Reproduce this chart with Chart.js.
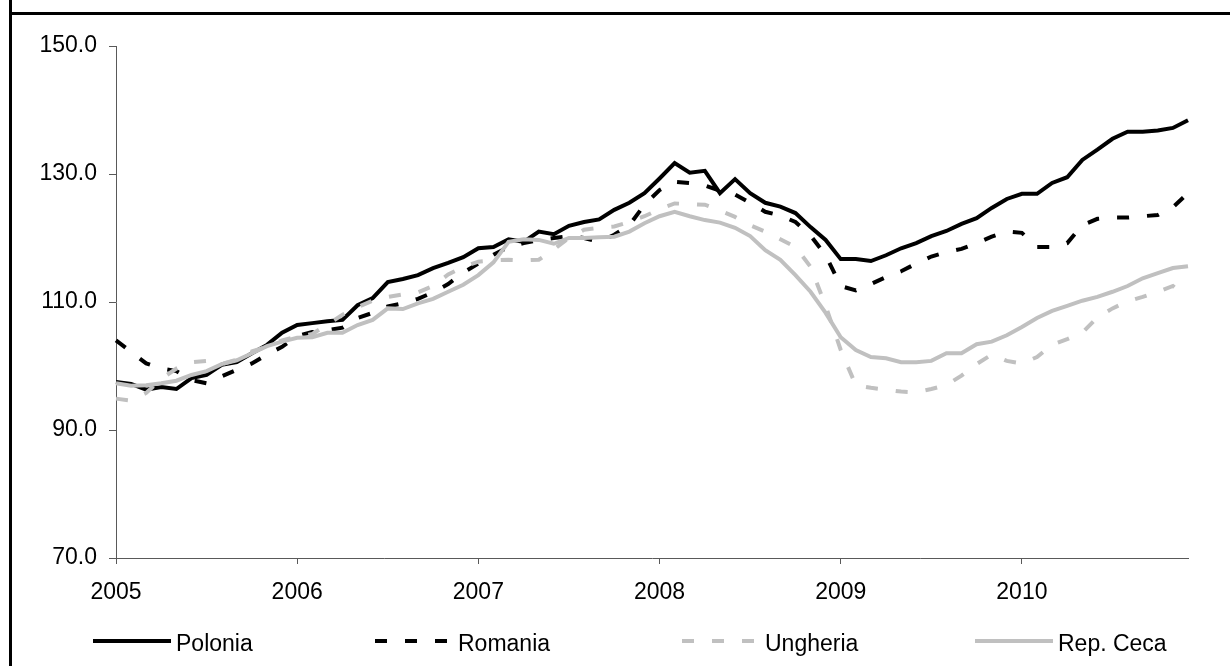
<!DOCTYPE html>
<html lang="it">

<head>
    <meta charset="UTF-8">
    <title>Indici</title>
    <script src="https://cdn.jsdelivr.net/npm/chart.js"></script>
    <style>
        body {
            margin: 0;
            background: #ffffff;
        }

        canvas {
            display: block;
        }
    </style>
</head>

<body>
    <canvas id="grafico" width="1230" height="666"></canvas>
</body>

</html>

<script>
    // mesi da gen 2005 a dic 2010
    var anni = [2005, 2006, 2007, 2008, 2009, 2010]
    var mesi = []
    for (var a = 0; a < anni.length; a++) {
        for (var m = 1; m <= 12; m++) {
            mesi.push(anni[a] + '-' + (m < 10 ? '0' + m : m))
        }
    }

    var tickAsseY = [70, 90, 110, 130, 150]

    var polonia = [97.5, 97.2, 96.3, 96.7, 96.4, 98.1, 98.6, 100.2, 100.6, 102.0, 103.3, 105.2,
        106.4, 106.7, 107.0, 107.2, 109.5, 110.6, 113.1, 113.6, 114.2, 115.3, 116.1, 117.0,
        118.4, 118.6, 119.8, 119.4, 121.0, 120.6, 121.9, 122.5, 122.9, 124.4, 125.5, 127.0,
        129.3, 131.7, 130.2, 130.5, 127.0, 129.2, 127.0, 125.5, 124.9, 123.9, 121.7, 119.7,
        116.7, 116.7, 116.4, 117.3, 118.4, 119.2, 120.3, 121.1, 122.2, 123.1, 124.7, 126.1,
        126.9, 126.9, 128.6, 129.5, 132.2, 133.8, 135.5, 136.6, 136.6, 136.8, 137.2, 138.4]

    var romania = [104.0, 102.2, 100.4, 99.6, 99.2, 97.8, 97.3, 98.4, 99.4, 100.4, 101.8, 103.0,
        104.7, 105.3, 105.6, 106.0, 107.5, 108.3, 109.3, 109.8, 110.5, 111.5, 112.8, 114.6,
        116.0, 117.4, 118.6, 119.2, 119.7, 120.0, 120.3, 120.0, 119.4, 120.5, 122.0, 125.2,
        127.5, 128.8, 128.6, 128.2, 127.4, 126.8, 125.5, 124.1, 123.5, 122.5, 120.4, 117.3,
        112.5, 111.8, 112.8, 113.9, 114.8, 116.0, 117.1, 117.8, 118.3, 119.2, 120.2, 121.0,
        120.8, 118.6, 118.6, 119.2, 122.0, 123.0, 123.2, 123.2, 123.4, 123.6, 124.8, 127.0]

    var ungheria = [94.9, 94.6, 95.8, 98.0, 99.6, 100.6, 100.8, 100.3, 101.0, 102.3, 103.0, 104.0,
        104.6, 105.0, 106.5, 108.0, 109.2, 110.2, 110.8, 111.2, 111.5, 112.5, 114.3, 115.5,
        116.3, 116.5, 116.6, 116.5, 116.6, 118.2, 120.0, 121.3, 121.6, 121.8, 122.5, 123.4,
        124.5, 125.4, 125.3, 125.2, 124.3, 123.3, 122.0, 121.0, 119.8, 118.6, 115.5, 109.4,
        102.5, 97.0, 96.6, 96.3, 96.0, 95.9, 96.4, 97.0, 98.5, 100.3, 101.8, 100.8,
        100.4, 101.4, 103.3, 104.2, 105.2, 107.6, 109.0, 110.1, 110.8, 111.6, 112.5, 110.5]

    var repCeca = [97.3, 96.9, 97.0, 97.3, 97.7, 98.6, 99.2, 100.3, 100.9, 102.0, 103.1, 103.8,
        104.4, 104.5, 105.2, 105.2, 106.4, 107.2, 109.0, 108.9, 109.8, 110.5, 111.6, 112.7,
        114.2, 116.2, 119.4, 119.8, 119.7, 119.1, 120.0, 120.0, 120.1, 120.2, 121.0, 122.3,
        123.4, 124.1, 123.4, 122.8, 122.4, 121.6, 120.3, 118.1, 116.6, 114.2, 111.6, 108.3,
        104.5, 102.5, 101.4, 101.2, 100.6, 100.6, 100.8, 102.0, 102.0, 103.4, 103.8, 104.8,
        106.1, 107.5, 108.6, 109.4, 110.2, 110.8, 111.6, 112.5, 113.7, 114.5, 115.3, 115.6]

    var FONTE = '"Liberation Sans", Arial, sans-serif'
    var GRIGIO = '#c0c0c0'
    var ASSE = '#595959'
    var TRATTO = [12, 18]

    // cornice come nel grafico originale (bordo sinistro + riga sotto il titolo)
    var cornice = {
        id: 'cornice',
        beforeDraw: function (chart) {
            var ctx = chart.ctx
            ctx.save()
            ctx.fillStyle = '#ffffff'
            ctx.fillRect(0, 0, chart.width, chart.height)
            ctx.strokeStyle = '#000000'
            ctx.lineWidth = 3
            ctx.beginPath()
            ctx.moveTo(10.5, 0)
            ctx.lineTo(10.5, chart.height)
            ctx.moveTo(9, 13.5)
            ctx.lineTo(chart.width, 13.5)
            ctx.stroke()
            ctx.restore()
        }
    }

    // legenda disegnata a mano sotto l'asse
    var legenda = {
        id: 'legendaSotto',
        afterDraw: function (chart) {
            var ctx = chart.ctx
            var inizio = [93, 375, 682, 975]
            var yLinea = 641
            ctx.save()
            ctx.font = '23px ' + FONTE
            ctx.textBaseline = 'alphabetic'
            ctx.fillStyle = '#000000'
            chart.data.datasets.forEach(function (ds, i) {
                var x0 = inizio[i]
                ctx.beginPath()
                ctx.strokeStyle = ds.borderColor
                ctx.lineWidth = ds.borderWidth
                ctx.setLineDash(ds.borderDash || [])
                ctx.moveTo(x0, yLinea)
                ctx.lineTo(x0 + 78, yLinea)
                ctx.stroke()
                ctx.setLineDash([])
                ctx.fillText(ds.label, x0 + 83, 651)
            })
            ctx.restore()
        }
    }

    const ctx = document.getElementById('grafico').getContext('2d')

    new Chart(ctx, {
        type: 'line',
        data: {
            labels: mesi,
            datasets: [{
                label: 'Polonia',
                data: polonia,
                borderColor: '#000000',
                borderWidth: 4,
                order: 4
            }, {
                label: 'Romania',
                data: romania,
                borderColor: '#000000',
                borderWidth: 4,
                borderDash: TRATTO,
                order: 3
            }, {
                label: 'Ungheria',
                data: ungheria,
                borderColor: GRIGIO,
                borderWidth: 4,
                borderDash: TRATTO,
                order: 2
            }, {
                label: 'Rep. Ceca',
                data: repCeca,
                borderColor: GRIGIO,
                borderWidth: 4,
                order: 1
            }]
        },
        options: {
            responsive: false,
            animation: false,
            devicePixelRatio: 1,
            elements: {
                point: { radius: 0 },
                line: { tension: 0, borderCapStyle: 'butt', borderJoinStyle: 'miter', fill: false }
            },
            layout: {
                padding: { top: 46, right: 42, bottom: 58, left: 0 }
            },
            plugins: {
                legend: { display: false },
                title: { display: false },
                tooltip: { enabled: false }
            },
            scales: {
                x: {
                    type: 'category',
                    offset: false,
                    grid: {
                        drawOnChartArea: false,
                        drawTicks: true,
                        tickLength: 6,
                        color: ASSE
                    },
                    border: { color: ASSE, width: 1 },
                    afterBuildTicks: function (asse) {
                        asse.ticks = asse.ticks.filter(function (t) { return t.value % 12 === 0 })
                    },
                    afterFit: function (asse) { asse.height = 50 },
                    ticks: {
                        autoSkip: false,
                        maxRotation: 0,
                        padding: 15,
                        color: '#000000',
                        font: { family: FONTE, size: 23 },
                        callback: function (v) {
                            return this.getLabelForValue(v).slice(0, 4)
                        }
                    }
                },
                y: {
                    min: tickAsseY[0],
                    max: tickAsseY[tickAsseY.length - 1],
                    grid: {
                        drawOnChartArea: false,
                        drawTicks: true,
                        tickLength: 7,
                        color: ASSE
                    },
                    border: { color: ASSE, width: 1 },
                    afterBuildTicks: function (asse) {
                        asse.ticks = tickAsseY.map(function (v) { return { value: v } })
                    },
                    afterFit: function (asse) { asse.width = 116 },
                    ticks: {
                        padding: 12,
                        color: '#000000',
                        font: { family: FONTE, size: 23 },
                        callback: function (v) { return v.toFixed(1) }
                    }
                }
            }
        },
        plugins: [cornice, legenda]
    });
</script>
